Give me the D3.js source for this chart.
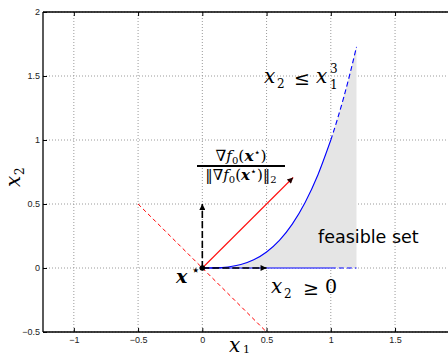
<!DOCTYPE html>
<html><head><meta charset="utf-8">
<script src="https://cdn.jsdelivr.net/npm/d3@7"></script>
<style>body{margin:0;background:#fff;}svg{display:block;}</style>
</head><body>
<svg id="chart" width="448" height="356"></svg>
<script>
// ---- data ----
const xTicks = [-1, -0.5, 0, 0.5, 1, 1.5];
const xTickLabels = ["\u22121", "\u22120.5", "0", "0.5", "1", "1.5"];
const yTicks = [-0.5, 0, 0.5, 1, 1.5, 2];
const yTickLabels = ["\u22120.5", "0", "0.5", "1", "1.5", "2"];
// boundary x2 = x1^3 (solid part, then dashed continuation)
const curveSolidX = [0, 0.1, 0.2, 0.3, 0.4, 0.5, 0.6, 0.7, 0.8, 0.9, 1.0];
const curveSolidY = [0, 0.001, 0.008, 0.027, 0.064, 0.125, 0.216, 0.343, 0.512, 0.729, 1.0];
const curveDashX = [1.0, 1.05, 1.1, 1.15, 1.2];
const curveDashY = [1.0, 1.158, 1.331, 1.521, 1.728];
// boundary x2 = 0
const baseSolidX = [0, 1.0];
const baseDashX = [1.0, 1.2];
// red dashed level line through x*
const levelX = [-0.5, 0.5];
const levelY = [0.5, -0.5];
// arrows from x* = (0,0)
const origin = [0, 0];
const gradEnd = [0.707, 0.707];
const normalEnds = [[0.5, 0], [0, 0.5]];

// ---- scales ----
const svg = d3.select("#chart");
const x = d3.scaleLinear().domain([-1.24, 2]).range([43, 459.3]);
const y = d3.scaleLinear().domain([-0.5, 2]).range([332, 12]);

// arrow markers
const defs = svg.append("defs");
function marker(id, color) {
  defs.append("marker").attr("id", id)
    .attr("viewBox", "0 0 10 10").attr("refX", 10).attr("refY", 5)
    .attr("markerUnits", "userSpaceOnUse")
    .attr("markerWidth", 8).attr("markerHeight", 6)
    .attr("orient", "auto")
    .append("path").attr("d", "M0,0 L10,5 L0,10 Z").attr("fill", color).attr("stroke", "none");
}
marker("headBlack", "#000");
marker("headRed", "#200");

// grid
const grid = svg.append("g");
grid.selectAll("line.gx").data(xTicks).join("line")
  .attr("x1", d => x(d)).attr("x2", d => x(d)).attr("y1", y(2)).attr("y2", y(-0.5))
  .attr("stroke", "#9a9a9a").attr("stroke-width", 1).attr("stroke-dasharray", "1,2");
grid.selectAll("line.gy").data(yTicks).join("line")
  .attr("x1", x(-1.24)).attr("x2", x(2)).attr("y1", d => y(d)).attr("y2", d => y(d))
  .attr("stroke", "#9a9a9a").attr("stroke-width", 1).attr("stroke-dasharray", "1,2");

// feasible set fill
const allCurve = curveSolidX.map((v, i) => [v, curveSolidY[i]])
  .concat(curveDashX.slice(1).map((v, i) => [v, curveDashY[i + 1]]));
const fillPts = allCurve.concat([[baseDashX[1], 0], [baseSolidX[0], 0]]);
svg.append("path")
  .attr("d", d3.line().x(d => x(d[0])).y(d => y(d[1]))(fillPts) + "Z")
  .attr("fill", "#e5e5e5").attr("stroke", "none");

// blue boundaries
const line = d3.line().x(d => x(d[0])).y(d => y(d[1])).curve(d3.curveMonotoneX);
svg.append("path").attr("d", line(curveSolidX.map((v, i) => [v, curveSolidY[i]])))
  .attr("fill", "none").attr("stroke", "#0000ff").attr("stroke-width", 1.1);
svg.append("path").attr("d", line(curveDashX.map((v, i) => [v, curveDashY[i]])))
  .attr("fill", "none").attr("stroke", "#0000ff").attr("stroke-width", 1.1).attr("stroke-dasharray", "5,3");
svg.append("path").attr("d", line(baseSolidX.map(v => [v, 0])))
  .attr("fill", "none").attr("stroke", "#0000ff").attr("stroke-width", 1.1);
svg.append("path").attr("d", line(baseDashX.map(v => [v, 0])))
  .attr("fill", "none").attr("stroke", "#0000ff").attr("stroke-width", 1.1).attr("stroke-dasharray", "5,3");

// red dashed line
svg.append("path").attr("d", line(levelX.map((v, i) => [v, levelY[i]])))
  .attr("fill", "none").attr("stroke", "#ff0000").attr("stroke-width", 1).attr("stroke-dasharray", "4,3");

// gradient arrow
svg.append("line")
  .attr("x1", x(origin[0])).attr("y1", y(origin[1])).attr("x2", x(gradEnd[0])).attr("y2", y(gradEnd[1]))
  .attr("stroke", "#ff1010").attr("stroke-width", 1.1).attr("marker-end", "url(#headRed)");

// constraint normal arrows
svg.selectAll("line.normal").data(normalEnds).join("line")
  .attr("x1", x(origin[0])).attr("y1", y(origin[1]))
  .attr("x2", d => x(d[0])).attr("y2", d => y(d[1]))
  .attr("stroke", "#000").attr("stroke-width", 1.6).attr("stroke-dasharray", "7,3")
  .attr("marker-end", "url(#headBlack)");

// x* point
svg.append("circle").attr("cx", x(origin[0])).attr("cy", y(origin[1])).attr("r", 2.8).attr("fill", "#000");

// axes box
const axisCol = "#000";
svg.append("line").attr("x1", x(-1.24)).attr("x2", x(-1.24)).attr("y1", y(2)).attr("y2", y(-0.5)).attr("stroke", axisCol).attr("stroke-width", 1.3);
svg.append("line").attr("x1", x(-1.24)).attr("x2", x(2)).attr("y1", y(2)).attr("y2", y(2)).attr("stroke", axisCol).attr("stroke-width", 1.3);
svg.append("line").attr("x1", x(-1.24)).attr("x2", x(2)).attr("y1", y(-0.5)).attr("y2", y(-0.5)).attr("stroke", axisCol).attr("stroke-width", 1.3);

const gx = svg.append("g").attr("transform", `translate(0,${y(-0.5)})`)
  .call(d3.axisBottom(x).tickValues(xTicks).tickFormat((d, i) => xTickLabels[i]).tickSizeInner(-4).tickSizeOuter(0).tickPadding(5));
const gxt = svg.append("g").attr("transform", `translate(0,${y(2)})`)
  .call(d3.axisTop(x).tickValues(xTicks).tickFormat("").tickSizeInner(-4).tickSizeOuter(0));
const gy = svg.append("g").attr("transform", `translate(${x(-1.24)},0)`)
  .call(d3.axisLeft(y).tickValues(yTicks).tickFormat((d, i) => yTickLabels[i]).tickSizeInner(-4).tickSizeOuter(0).tickPadding(3));
[gx, gxt, gy].forEach(g => {
  g.select(".domain").remove();
  g.selectAll(".tick line").attr("stroke", "#000");
  g.selectAll("text").attr("font-family", "'Liberation Sans', Arial, sans-serif").attr("font-size", 9).attr("fill", "#222");
});

// ---- text annotations ----
const serif = "'DejaVu Serif', serif";
function t(xp, yp, s, size, opts = {}) {
  return svg.append("text").attr("x", xp).attr("y", yp).text(s)
    .attr("font-family", opts.family || serif).attr("font-size", size)
    .attr("font-style", opts.italic ? "italic" : "normal")
    .attr("font-weight", opts.bold ? "bold" : "normal")
    .attr("text-anchor", opts.anchor || "start").attr("fill", "#000");
}
// x2 <= x1^3
t(264, 83, "x", 20, {italic: true});
t(277, 88, "2", 12);
t(294, 85, "\u2264", 19);
t(316, 83, "x", 20, {italic: true});
t(330, 89, "1", 12);
t(330, 73, "3", 12);
// x2 >= 0
t(271, 293, "x", 20, {italic: true});
t(284, 298, "2", 12);
t(303, 295, "\u2265", 19);
t(325, 293, "0", 19);
// x*
t(176, 283, "x", 19, {italic: true, bold: true});
t(191, 275, "\u22c6", 15, {family: "'DejaVu Sans', sans-serif"});
// feasible set
t(318, 243, "feasible set", 17.5, {family: "'DejaVu Sans', sans-serif"});

// gradient fraction label
function mathRow(yp, parts, size) {
  const tx = svg.append("text").attr("x", 241).attr("y", yp).attr("text-anchor", "middle")
    .attr("font-family", serif).attr("font-size", size).attr("fill", "#000");
  parts.forEach(p => {
    tx.append("tspan").text(p.s)
      .attr("dy", p.dy || 0)
      .attr("font-size", p.size || size)
      .attr("font-style", p.it ? "italic" : "normal")
      .attr("font-weight", p.b ? "bold" : "normal")
      .attr("font-family", p.fam || serif);
  });
}
mathRow(161, [
  {s: "\u2207"}, {s: "f", it: true}, {s: "0", dy: 2.5, size: 10}, {s: "(", dy: -2.5},
  {s: "x", it: true, b: true}, {s: "\u22c6", dy: -5, size: 11, fam: "'DejaVu Sans', sans-serif"}, {s: ")", dy: 5}
], 15.5);
svg.append("line").attr("x1", 197).attr("x2", 285).attr("y1", 166).attr("y2", 166).attr("stroke", "#000").attr("stroke-width", 1.8);
mathRow(180, [
  {s: "\u2016"}, {s: "\u2207"}, {s: "f", it: true}, {s: "0", dy: 3, size: 10}, {s: "(", dy: -3},
  {s: "x", it: true, b: true}, {s: "\u22c6", dy: -5, size: 11, fam: "'DejaVu Sans', sans-serif"}, {s: ")", dy: 5},
  {s: "\u2016"}, {s: "2", dy: 3, size: 10}
], 15);

// axis labels
t(229, 352, "x", 20, {italic: true});
t(243, 353, "1", 11);
const ylab = svg.append("g").attr("transform", "translate(20,187) rotate(-90)");
ylab.append("text").attr("x", 0).attr("y", 0).text("x").attr("font-family", serif).attr("font-style", "italic").attr("font-size", 20);
ylab.append("text").attr("x", 12).attr("y", 4).text("2").attr("font-family", serif).attr("font-size", 12);
</script>
</body></html>
